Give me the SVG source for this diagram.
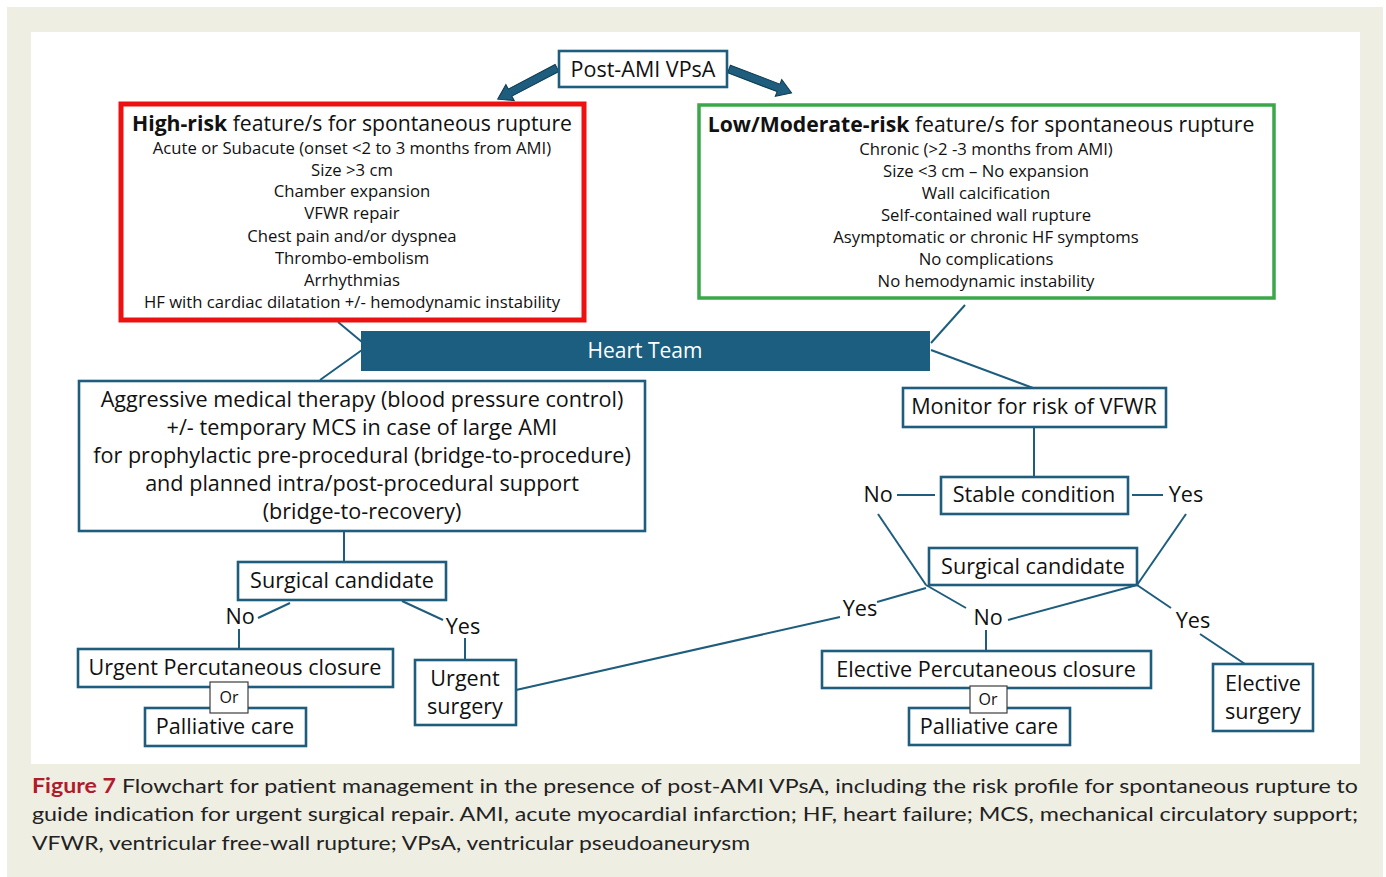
<svg xmlns="http://www.w3.org/2000/svg" width="1386" height="877" viewBox="0 0 1386 877">
<style>
  .box{fill:#ffffff;stroke:#1e5d7d;stroke-width:2.6}
  .or{fill:#ffffff;stroke:#3c3c3c;stroke-width:1.2}
  .ln{stroke:#1e5d7d;stroke-width:2;fill:none}
  .t{font-family:"Open Sans","Liberation Sans",Arial,sans-serif;fill:#111;text-anchor:middle}
  .big{font-size:21.6px}
  .mid{font-size:16.7px}
  .ttl{font-size:21.2px}
  .b{font-weight:bold}
  .cap{font-family:"Lato","Liberation Sans",sans-serif;font-size:20px;fill:#222}
</style>
<defs>
  <path id="barrow" d="M0,-4 L53,-4 L53,-9 L67,0 L53,9 L53,4 L0,4 Z" fill="#1e5d7d" stroke="#0e3a50" stroke-width="1"/>
</defs>
<rect x="0" y="0" width="1386" height="877" fill="#ffffff"/>
<rect x="7" y="7" width="1376" height="870" fill="#eeeee2"/>
<rect x="31" y="32" width="1329" height="732" fill="#ffffff"/>

<g id="connectors">
  <use href="#barrow" transform="translate(557,68) rotate(152.3)"/>
  <use href="#barrow" transform="translate(729,69) rotate(20.9)"/>
  <line class="ln" x1="338" y1="322" x2="362" y2="342"/>
  <line class="ln" x1="362" y1="350" x2="320" y2="380"/>
  <line class="ln" x1="965" y1="305" x2="931" y2="343"/>
  <line class="ln" x1="931" y1="350" x2="1033" y2="388"/>
  <line class="ln" x1="1034" y1="427" x2="1034" y2="477"/>
  <line class="ln" x1="897" y1="495" x2="935" y2="495"/>
  <line class="ln" x1="1132" y1="495" x2="1163" y2="495"/>
  <line class="ln" x1="878" y1="514" x2="926" y2="585"/>
  <line class="ln" x1="926" y1="585" x2="966" y2="608"/>
  <line class="ln" x1="1186" y1="514" x2="1137" y2="585"/>
  <line class="ln" x1="1137" y1="585" x2="1008" y2="620"/>
  <line class="ln" x1="1137" y1="585" x2="1171" y2="608"/>
  <line class="ln" x1="1200" y1="634" x2="1245" y2="664"/>
  <line class="ln" x1="986" y1="630" x2="986" y2="651"/>
  <line class="ln" x1="926" y1="588" x2="877" y2="602"/>
  <line class="ln" x1="840" y1="617" x2="516" y2="690"/>
  <line class="ln" x1="344" y1="531" x2="344" y2="562"/>
  <line class="ln" x1="290" y1="603" x2="258" y2="618"/>
  <line class="ln" x1="239" y1="629" x2="239" y2="648"/>
  <line class="ln" x1="402" y1="601" x2="443" y2="620"/>
  <line class="ln" x1="465" y1="638" x2="465" y2="659"/>
</g>

<g id="n-post">
  <rect class="box" x="559" y="51" width="168" height="36"/>
  <text class="t" x="643" y="77" font-size="21.5">Post-AMI VPsA</text>
</g>

<g id="n-high">
  <rect x="121" y="104" width="463" height="216" fill="#ffffff" stroke="#ee1111" stroke-width="5"/>
  <text class="t ttl" x="352" y="131"><tspan class="b">High-risk</tspan> feature/s for spontaneous rupture</text>
  <text class="t mid" x="352" y="154">Acute or Subacute (onset &lt;2 to 3 months from AMI)</text>
  <text class="t mid" x="352" y="176">Size &gt;3 cm</text>
  <text class="t mid" x="352" y="197">Chamber expansion</text>
  <text class="t mid" x="352" y="219">VFWR repair</text>
  <text class="t mid" x="352" y="242">Chest pain and/or dyspnea</text>
  <text class="t mid" x="352" y="264">Thrombo-embolism</text>
  <text class="t mid" x="352" y="286">Arrhythmias</text>
  <text class="t mid" x="352" y="308">HF with cardiac dilatation +/- hemodynamic instability</text>
</g>

<g id="n-low">
  <rect x="699" y="105" width="575" height="193" fill="#ffffff" stroke="#3aa848" stroke-width="3.5"/>
  <text class="t ttl" x="981" y="132"><tspan class="b">Low/Moderate-risk</tspan> feature/s for spontaneous rupture</text>
  <text class="t mid" x="986" y="155">Chronic (&gt;2 -3 months from AMI)</text>
  <text class="t mid" x="986" y="177">Size &lt;3 cm – No expansion</text>
  <text class="t mid" x="986" y="199">Wall calcification</text>
  <text class="t mid" x="986" y="221">Self-contained wall rupture</text>
  <text class="t mid" x="986" y="243">Asymptomatic or chronic HF symptoms</text>
  <text class="t mid" x="986" y="265">No complications</text>
  <text class="t mid" x="986" y="287">No hemodynamic instability</text>
</g>

<g id="n-heart">
  <rect x="361" y="331" width="569" height="40" fill="#1b5e80"/>
  <text class="t" x="645" y="358" font-size="21" style="fill:#ffffff">Heart Team</text>
</g>

<g id="n-aggr">
  <rect class="box" x="79" y="381" width="566" height="150"/>
  <text class="t big" x="362" y="407">Aggressive medical therapy (blood pressure control)</text>
  <text class="t big" x="362" y="435">+/- temporary MCS in case of large AMI</text>
  <text class="t big" x="362" y="463">for prophylactic pre-procedural (bridge-to-procedure)</text>
  <text class="t big" x="362" y="491">and planned intra/post-procedural support</text>
  <text class="t big" x="362" y="519">(bridge-to-recovery)</text>
</g>

<g id="n-monitor">
  <rect class="box" x="903" y="388" width="263" height="39"/>
  <text class="t big" x="1034" y="414">Monitor for risk of VFWR</text>
</g>

<g id="n-stable">
  <rect class="box" x="941" y="477" width="187" height="37"/>
  <text class="t big" x="1034" y="502">Stable condition</text>
  <text class="t big" x="878" y="502">No</text>
  <text class="t big" x="1186" y="502">Yes</text>
</g>

<g id="n-surg-r">
  <rect class="box" x="929" y="548" width="208" height="37"/>
  <text class="t big" x="1033" y="574">Surgical candidate</text>
  <text class="t big" x="860" y="616">Yes</text>
  <text class="t big" x="988" y="625">No</text>
  <text class="t big" x="1193" y="628">Yes</text>
</g>

<g id="n-surg-l">
  <rect class="box" x="238" y="562" width="208" height="38"/>
  <text class="t big" x="342" y="588">Surgical candidate</text>
  <text class="t big" x="240" y="624">No</text>
  <text class="t big" x="463" y="634">Yes</text>
</g>

<g id="n-urgperc">
  <rect class="box" x="78" y="649" width="315" height="38"/>
  <text class="t big" x="235" y="675">Urgent Percutaneous closure</text>
</g>
<g id="n-pall-l">
  <rect class="box" x="145" y="708" width="161" height="38"/>
  <text class="t big" x="225" y="734">Palliative care</text>
</g>
<g id="n-or-l">
  <rect class="or" x="210" y="682" width="38" height="31"/>
  <text class="t" x="229" y="703" font-size="16">Or</text>
</g>

<g id="n-urgsurg">
  <rect class="box" x="415" y="660" width="101" height="65"/>
  <text class="t big" x="465" y="686">Urgent</text>
  <text class="t big" x="465" y="714">surgery</text>
</g>

<g id="n-elecperc">
  <rect class="box" x="822" y="651" width="329" height="37"/>
  <text class="t big" x="986" y="677">Elective Percutaneous closure</text>
</g>
<g id="n-pall-r">
  <rect class="box" x="909" y="708" width="161" height="37"/>
  <text class="t big" x="989" y="734">Palliative care</text>
</g>
<g id="n-or-r">
  <rect class="or" x="970" y="686" width="37" height="27"/>
  <text class="t" x="988" y="705" font-size="16">Or</text>
</g>

<g id="n-elecsurg">
  <rect class="box" x="1213" y="664" width="100" height="67"/>
  <text class="t big" x="1263" y="691">Elective</text>
  <text class="t big" x="1263" y="719">surgery</text>
</g>

<g id="caption">
  <text class="cap" x="32" y="793" textLength="1326" lengthAdjust="spacingAndGlyphs"><tspan font-weight="bold" style="fill:#b01c2e">Figure 7</tspan> Flowchart for patient management in the presence of post-AMI VPsA, including the risk profile for spontaneous rupture to</text>
  <text class="cap" x="32" y="821" textLength="1326" lengthAdjust="spacingAndGlyphs">guide indication for urgent surgical repair. AMI, acute myocardial infarction; HF, heart failure; MCS, mechanical circulatory support;</text>
  <text class="cap" x="32" y="850" textLength="718" lengthAdjust="spacingAndGlyphs">VFWR, ventricular free-wall rupture; VPsA, ventricular pseudoaneurysm</text>
</g>
</svg>
